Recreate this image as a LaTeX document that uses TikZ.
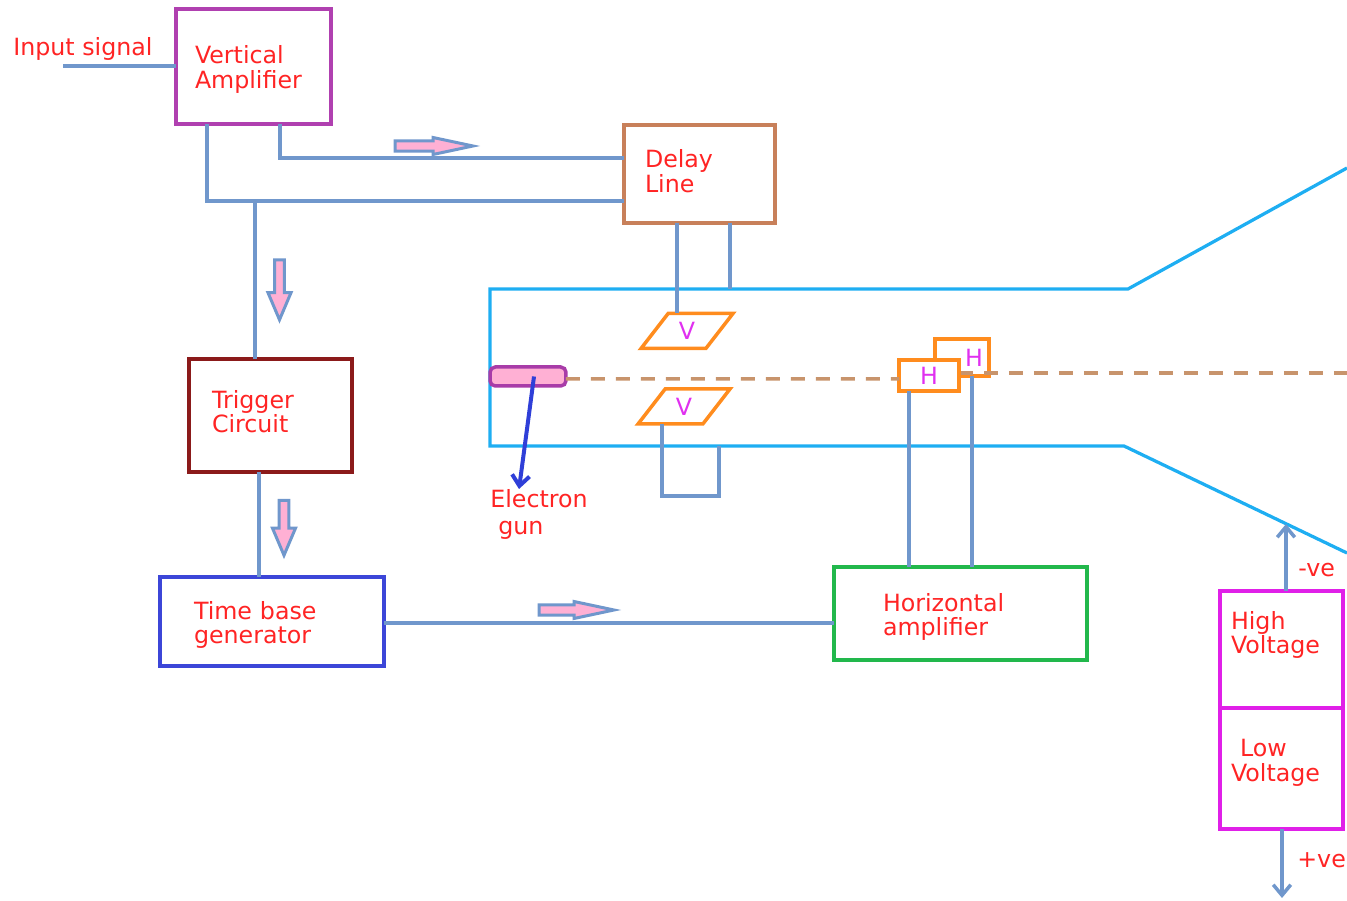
\documentclass[tikz,border=0pt]{standalone}
\usepackage{xcolor}
\usepackage{fontspec}
\setmainfont{DejaVu Sans}
\usetikzlibrary{positioning,arrows.meta,shapes.geometric,shapes.arrows}

\definecolor{wirecol}{HTML}{7097CC}
\definecolor{tubecol}{HTML}{1EAEF2}
\definecolor{labelred}{HTML}{FF2424}
\definecolor{platecol}{HTML}{FF8C1E}
\definecolor{platetext}{HTML}{E030F0}
\definecolor{plinkfill}{HTML}{FFB0D4}
\definecolor{beamcol}{HTML}{C8946C}
\definecolor{vampcol}{HTML}{B040B0}
\definecolor{delaycol}{HTML}{C8805A}
\definecolor{triggercol}{HTML}{8B1A1A}
\definecolor{timecol}{HTML}{3C46D8}
\definecolor{horizcol}{HTML}{22B84C}
\definecolor{supplycol}{HTML}{E020E8}
\definecolor{guncol}{HTML}{A83CA8}
\definecolor{gunarrow}{HTML}{2F3FD8}

\begin{document}
\begin{tikzpicture}[
    x=0.02cm, y=-0.02cm,
    >={Straight Barb[length=6pt,width=10pt]},
    box/.style={draw, line width=0.07cm, outer sep=0pt, inner ysep=0pt, align=left,
                text=labelred, font=\fontsize{13.5}{14.2}\selectfont},
    wire/.style={draw=wirecol, line width=0.07cm},
    tube/.style={draw=tubecol, line width=0.065cm, line join=miter},
    beam/.style={draw=beamcol, line width=0.07cm, dash pattern=on 0.28cm off 0.22cm},
    plate/.style={trapezium, trapezium left angle=56, trapezium right angle=124,
                  trapezium stretches=true, draw=platecol, line width=0.07cm, outer sep=0pt,
                  minimum width=1.84cm, minimum height=0.7cm, inner sep=0pt, text=platetext,
                  font=\fontsize{13.5}{14}\selectfont},
    hplate/.style={draw=platecol, fill=white, line width=0.08cm, outer sep=0pt, inner sep=0pt,
                   text=platetext, font=\fontsize{13.5}{14}\selectfont},
    flow/.style={single arrow, draw=wirecol, fill=plinkfill, line width=0.06cm, inner sep=0pt, outer sep=0pt},
    note/.style={text=labelred, align=left, anchor=west, inner sep=0pt,
                 font=\fontsize{13.5}{14.2}\selectfont},
]
\useasboundingbox (0,0) rectangle (1347,901);

% cathode ray tube
\coordinate (tube_a) at (1347,168);
\coordinate (tube_b) at (1128,289);
\coordinate (tube_c) at (490,289);
\coordinate (tube_d) at (490,446);
\coordinate (tube_e) at (1124,446);
\coordinate (tube_f) at (1347,553);
\draw[tube] (tube_a) -- (tube_b) -- (tube_c) -- (tube_d) -- (tube_e) -- (tube_f);

% blocks
\node[box, draw=vampcol, inner xsep=0.38cm, text width=2.34cm, minimum height=2.3cm, text depth=0.48cm]
    at (253.5,66.5) (vamp) {Vertical\\Amplifier};
\node[box, draw=delaycol, inner xsep=0.42cm, text width=2.18cm, minimum height=1.96cm, text depth=0.62cm]
    at (699.5,174) (delay) {Delay\\Line};
\node[box, draw=triggercol, inner xsep=0.46cm, text width=2.34cm, minimum height=2.26cm, text depth=0.66cm]
    at (270.5,415.5) (trigger) {Trigger\\Circuit};
\node[box, draw=timecol, inner xsep=0.68cm, text width=3.12cm, minimum height=1.78cm, text depth=0.46cm]
    at (272,621.5) (timebase) {Time base\\generator};
\node[box, draw=horizcol, inner xsep=0.98cm, text width=3.1cm, minimum height=1.86cm, text depth=0.46cm]
    at (960.5,613.5) (horiz) {Horizontal\\amplifier};
\node[box, draw=supplycol, inner xsep=0.22cm, text width=2.02cm, minimum height=2.34cm, text depth=1.18cm]
    at (1281.5,649.5) (high) {High\\Voltage};
\node[box, draw=supplycol, inner xsep=0.22cm, text width=2.02cm, minimum height=2.42cm, text depth=0.82cm]
    at (1281.5,768.5) (low) {\hspace*{0.18cm}Low\\Voltage};

% input
\node[note] at (13,49) (input_lab) {Input signal};
\coordinate (input_end) at (63,66);
\draw[wire] (input_end) -- (vamp.west |- input_end);

% wires from the amplifier
\coordinate (jn_a) at (207,201);
\coordinate (jn_b) at (280,158);
\coordinate (jn_c) at (255,201);
\draw[wire] (vamp.south -| jn_a) -- (jn_a) -- (delay.west |- jn_a);
\draw[wire] (vamp.south -| jn_b) -- (jn_b) -- (delay.west |- jn_b);
\draw[wire] (jn_c) -- (trigger.north -| jn_c);
\draw[wire] (259,0 |- trigger.south) -- (259,0 |- timebase.north);
\draw[wire] (timebase.east |- 0,623) -- (horiz.west |- 0,623);

% deflection plates
\node[plate] at (687,331) (vtop) {V};
\node[plate] at (684,406.5) (vbot) {V};
\draw[wire] (677,0 |- delay.south) -- (677,0 |- vtop.north);
\draw[wire] (730,0 |- delay.south) -- (730,0 |- tube_b);
\coordinate (loop_a) at (662,496);
\coordinate (loop_b) at (719,496);
\draw[wire] (loop_a |- vbot.south) -- (loop_a) -- (loop_b) -- (loop_b |- tube_d);

% electron gun and beam
\node[draw=guncol, fill=plinkfill, rounded corners=3pt, line width=0.07cm, outer sep=0pt,
      minimum width=1.52cm, minimum height=0.38cm, inner sep=0pt] at (528,376.5) (gun) {};
\node[hplate, minimum width=1.08cm, minimum height=0.74cm, text width=0.84cm, align=right] at (962,357.5) (hrear) {H};
\coordinate (beam_end) at (1347,373);
\draw[beam] (959,0 |- beam_end) -- (beam_end);
\node[hplate, minimum width=1.2cm, minimum height=0.62cm] at (929,375.5) (hfront) {H};
\draw[beam] ([yshift=-0.05cm]gun.east) -- ([yshift=-0.07cm]hfront.west);
\draw[wire] (909,0 |- hfront.south) -- (909,0 |- horiz.north);
\draw[wire] (972,0 |- hrear.south) -- (972,0 |- horiz.north);

\coordinate (gun_tip) at (519,489);
\draw[->, draw=gunarrow, line width=0.08cm] ([xshift=0.12cm]gun.center) -- (gun_tip);
\node[note, font=\fontsize{13.5}{15.4}\selectfont] at (490,514) (gun_lab) {Electron\\\hspace*{0.16cm}gun};

% supply
\coordinate (neg_tip) at (1286,524);
\coordinate (pos_tip) at (1282,898);
\draw[wire, ->] (neg_tip |- high.north) -- (neg_tip);
\draw[wire, ->] (pos_tip |- low.south) -- (pos_tip);
\node[note] at (1298,570) (neg_lab) {-ve};
\node[note] at (1297,860) (pos_lab) {+ve};

% signal flow marks
\node[flow, minimum height=1.56cm, minimum width=0.34cm, single arrow tip angle=24,
      single arrow head extend=0.02cm] at (422,146) (flow_a) {};
\node[flow, minimum height=1.5cm, minimum width=0.34cm, single arrow tip angle=24,
      single arrow head extend=0.02cm] at (564.5,610) (flow_b) {};
\node[flow, shape border rotate=270, minimum height=1.2cm, minimum width=0.46cm, single arrow tip angle=46,
      single arrow head extend=0.04cm] at (279.5,284) (flow_c) {};
\node[flow, shape border rotate=270, minimum height=1.1cm, minimum width=0.46cm, single arrow tip angle=46,
      single arrow head extend=0.04cm] at (284,522) (flow_d) {};

\end{tikzpicture}
\end{document}
